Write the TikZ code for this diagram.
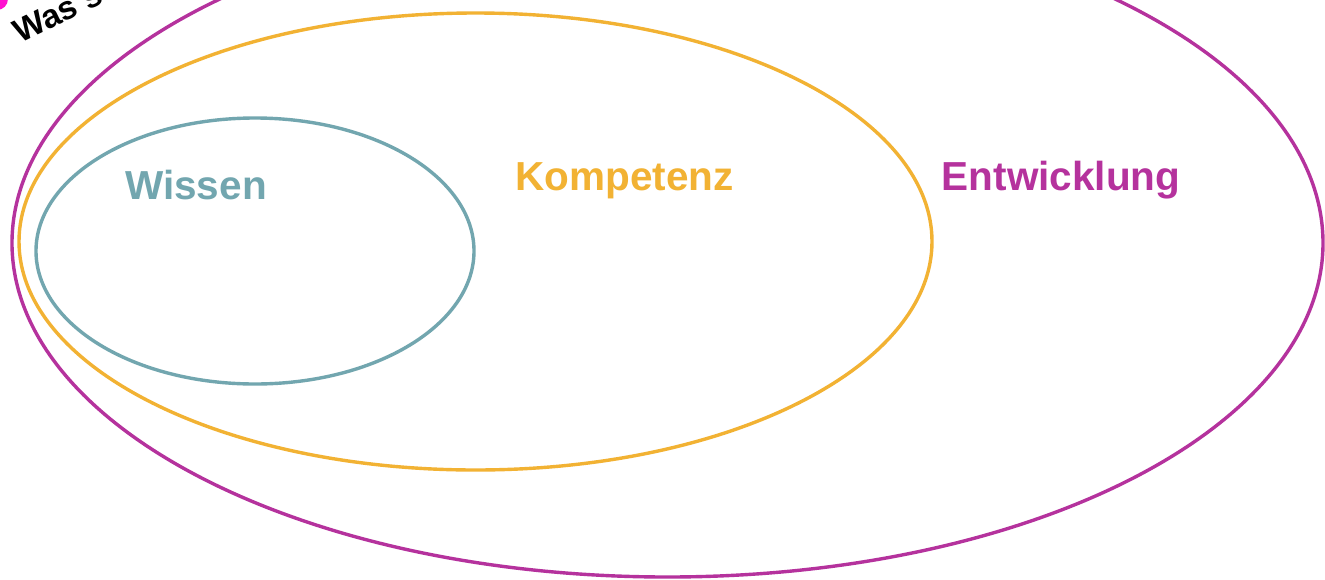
\documentclass[tikz,border=0pt]{standalone}
\usepackage{fontspec}
\setmainfont{Liberation Sans}
\definecolor{wissencol}{HTML}{72A6AF}
\definecolor{kompcol}{HTML}{F2B233}
\definecolor{entwcol}{HTML}{B5329D}
\definecolor{dotcol}{HTML}{FF10D0}
\tikzset{
  ring/.style={line width=3.4pt},
  lbl/.style={font=\bfseries\fontsize{40.5}{45}\selectfont, anchor=base, inner sep=0pt},
}
\begin{document}
\begin{tikzpicture}[x=1pt,y=-1pt]
\useasboundingbox (0,0) rectangle (1325,579);
\clip (0,0) rectangle (1325,579);
\fill[white] (0,0) rectangle (1325,579);
\draw[ring, entwcol] (667.5,243) ellipse [x radius=655.5pt, y radius=334pt];
\draw[ring, kompcol] (475.5,241.5) ellipse [x radius=456.5pt, y radius=228.5pt];
\draw[ring, wissencol] (255,251) ellipse [x radius=219pt, y radius=133pt];
\node[lbl, text=wissencol] (wissen) at (196,199) {Wissen};
\node[lbl, text=kompcol] (komp) at (624.5,190) {Kompetenz};
\node[lbl, text=entwcol] (entw) at (1061,190) {Entwicklung};
\fill[dotcol] (-3,-1) circle (11pt);
\node[font=\bfseries\fontsize{33}{37}\selectfont, rotate=26, anchor=base west, inner sep=0pt] (was) at (20,44) {Was s};
\end{tikzpicture}
\end{document}
